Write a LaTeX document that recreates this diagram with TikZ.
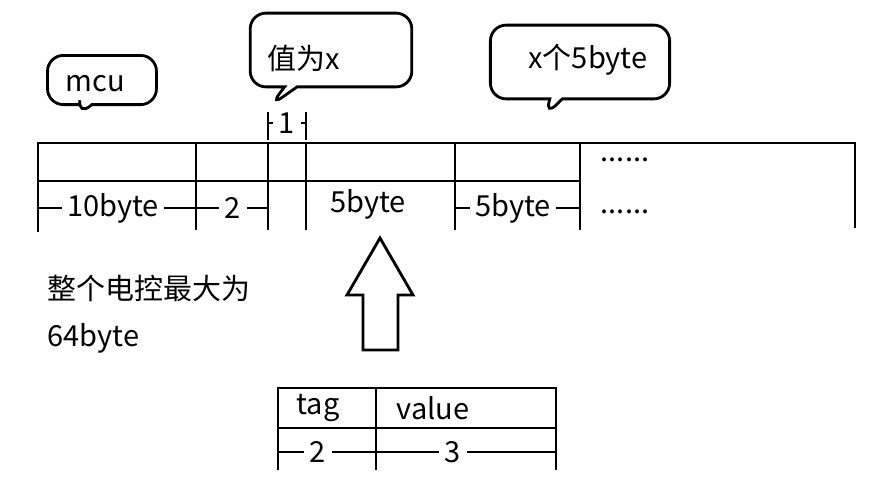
\documentclass[tikz,border=0pt]{standalone}
\usepackage{fontspec}
\setmainfont{Noto Sans CJK SC}
\usetikzlibrary{shapes.callouts}
\begin{document}
\begin{tikzpicture}[x=0.02cm,y=-0.02cm,
    line/.style={line width=1.6pt},
    lbl/.style={font=\fontsize{16.5}{19}\selectfont, inner ysep=1pt, inner xsep=3pt},
    bubble/.style={rectangle callout, draw, line width=1.6pt, rounded corners=9pt, inner sep=0pt, font=\fontsize{16.5}{19}\selectfont},
  ]
  \useasboundingbox (0,0) rectangle (888,484);

  % main frame
  \draw[line] (38,232) -- (38,143) -- (855,143) -- (855,228);
  \draw[line] (38,181) -- (580,181);
  \foreach \x in {196,268,306,455,580}
  \draw[line] (\x,143) -- (\x,230);

  % widths
  \node[lbl] (w10) at (113,208) {10byte};
  \draw[line] (38,208) -- (w10.west) (w10.east) -- (196,208);
  \node[lbl] (w2) at (233,208) {2};
  \draw[line] (196,208) -- (w2.west) (w2.east) -- (268,208);
  \node[lbl] (w5a) at (368,204) {5byte};
  \node[lbl] (w5b) at (513,208) {5byte};
  \draw[line] (455,208) -- (w5b.west) (w5b.east) -- (580,208);
  \node[lbl] (dots1) at (625,160) {......};
  \node[lbl] (dots2) at (625,212) {......};

  % one byte
  \node[lbl] (w1) at (287,123) {1};
  \draw[line] (268,112) -- (268,140) (306,112) -- (306,140);
  \draw[line] (268,123) -- (w1.west) (w1.east) -- (306,123);

  % notes
  \node[bubble, minimum width=62pt, minimum height=28pt, callout absolute pointer={(78,116)}] (mcu) at (102,80) {};
  \node[lbl, anchor=west] (mcutext) at (60,84) {mcu};
  \node[bubble, minimum width=92pt, minimum height=42pt, callout absolute pointer={(270,106)}] (val) at (331,50) {};
  \node[lbl, anchor=west] (valtext) at (262,58) {值为x};
  \node[bubble, minimum width=102pt, minimum height=42pt, callout absolute pointer={(545,116)}] (cnt) at (580,62) {};
  \node[lbl] (cnttext) at (588,60) {x个5byte};

  % arrow
  \draw[line] (380,238) -- (413,295) -- (398,295) -- (398,350) -- (363,350) -- (363,295) -- (347,295) -- cycle;

  \node[lbl, anchor=west] (total) at (42,288) {整个电控最大为};
  \node[lbl, anchor=west] (size) at (42,338) {64byte};

  % tag value
  \draw[line] (278,470) -- (278,388) -- (556,388) -- (556,470);
  \draw[line] (376,388) -- (376,470);
  \draw[line] (278,428) -- (556,428);
  \node[lbl] (tag) at (318,408) {tag};
  \node[lbl] (value) at (433,408) {value};
  \node[lbl] (t2) at (318,452) {2};
  \node[lbl] (t3) at (453,452) {3};
  \draw[line] (278,452) -- (t2.west) (t2.east) -- (376,452);
  \draw[line] (376,452) -- (t3.west) (t3.east) -- (556,452);
\end{tikzpicture}
\end{document}
